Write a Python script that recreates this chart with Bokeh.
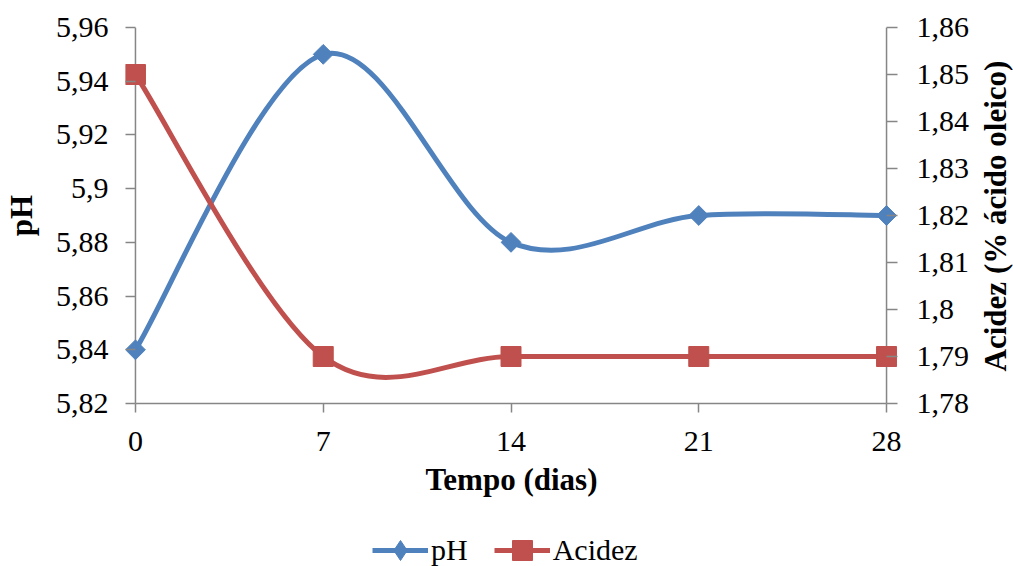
import numpy as np
from bokeh.plotting import figure
from bokeh.models import (Range1d, LinearAxis, FixedTicker, Legend, LegendItem, Span, Label)
from bokeh.layouts import column, row
from bokeh.embed import file_html
from bokeh.resources import INLINE

# ---- data ----
dias = [0, 7, 14, 21, 28]
ph = [5.84, 5.95, 5.88, 5.89, 5.89]
acidez = [1.85, 1.79, 1.79, 1.79, 1.79]

ph_ticks = [5.82, 5.84, 5.86, 5.88, 5.90, 5.92, 5.94, 5.96]
ph_labels = ["5,82", "5,84", "5,86", "5,88", "5,9", "5,92", "5,94", "5,96"]
ac_ticks = [1.78, 1.79, 1.80, 1.81, 1.82, 1.83, 1.84, 1.85, 1.86]
ac_labels = ["1,78", "1,79", "1,8", "1,81", "1,82", "1,83", "1,84", "1,85", "1,86"]
x_ticks = [0, 7, 14, 21, 28]

BLUE = "#4F81BD"
RED = "#C0504D"
AXC = "#868686"
FONT = "Liberation Serif"

# ---- layout geometry (pixels) ----
W = 1013
LEFT, RIGHT, TOP, BOTTOM = 122, 82, 27, 110
FRAME_W, FRAME_H = 775, 376
PAD_L, PAD_R = 10, 11          # room so edge markers are not clipped
MAIN_W = LEFT + FRAME_W + RIGHT
MAIN_H = TOP + FRAME_H + BOTTOM
STRIP_W = W - MAIN_W
LEG_H = 566 - MAIN_H

ppu = (FRAME_W - PAD_L - PAD_R) / (dias[-1] - dias[0])
x_start = dias[0] - PAD_L / ppu
x_end = dias[-1] + PAD_R / ppu


def smooth_segments(xs, ys, k=1/6):
    """Catmull-Rom style Bezier control points (Excel smoothed line)."""
    xs = np.asarray(xs, float); ys = np.asarray(ys, float)
    n = len(xs)
    d = dict(x0=[], y0=[], x1=[], y1=[], cx0=[], cy0=[], cx1=[], cy1=[])
    for i in range(n - 1):
        p0 = i - 1 if i > 0 else i
        p3 = i + 2 if i + 2 < n else i + 1
        d["x0"].append(xs[i]); d["y0"].append(ys[i])
        d["x1"].append(xs[i + 1]); d["y1"].append(ys[i + 1])
        d["cx0"].append(xs[i] + (xs[i + 1] - xs[p0]) * k)
        d["cy0"].append(ys[i] + (ys[i + 1] - ys[p0]) * k)
        d["cx1"].append(xs[i + 1] - (xs[p3] - xs[i]) * k)
        d["cy1"].append(ys[i + 1] - (ys[p3] - ys[i]) * k)
    return d


p = figure(width=MAIN_W, height=MAIN_H, output_backend="svg", toolbar_location=None,
           x_range=Range1d(x_start, x_end), y_range=Range1d(ph_ticks[0], ph_ticks[-1]),
           min_border_left=LEFT, min_border_right=RIGHT, min_border_top=TOP,
           min_border_bottom=BOTTOM)
p.extra_y_ranges = {"ac": Range1d(ac_ticks[0], ac_ticks[-1])}
p.outline_line_color = None
p.grid.visible = False

xa = p.xaxis[0]
xa.ticker = FixedTicker(ticks=x_ticks)
xa.bounds = (dias[0], dias[-1])
xa.axis_label = "Tempo (dias)"
ya = p.yaxis[0]
ya.ticker = FixedTicker(ticks=ph_ticks)
ya.major_label_overrides = {t: l for t, l in zip(ph_ticks, ph_labels)}
ya.axis_label = "pH"

ra = LinearAxis(y_range_name="ac", ticker=FixedTicker(ticks=ac_ticks))
ra.major_label_overrides = {t: l for t, l in zip(ac_ticks, ac_labels)}
p.add_layout(ra, "right")

for ax in (xa, ya, ra):
    ax.axis_line_color = AXC
    ax.axis_line_width = 1.5
    ax.major_tick_line_color = AXC
    ax.major_tick_line_width = 1.5
    ax.minor_tick_line_color = None
    ax.major_label_text_font = FONT
    ax.major_label_text_font_size = "30px"
    ax.major_label_text_color = "black"
    ax.axis_label_text_font = FONT
    ax.axis_label_text_font_size = "31px"
    ax.axis_label_text_font_style = "bold"
    ax.axis_label_text_color = "black"

# x axis: ticks outward
xa.major_tick_out = 9
xa.major_tick_in = 0
xa.major_label_standoff = 19
xa.axis_label_standoff = 8

# y axes sit at the frame edge; their ticks reach in to the day-0 / day-28 line
ya.axis_line_color = None
ra.axis_line_color = None
ya.major_tick_out = 0
ya.major_tick_in = PAD_L
ya.major_label_standoff = 17
ya.axis_label_standoff = 14
ra.major_tick_out = 0
ra.major_tick_in = PAD_R
ra.major_label_standoff = 19

# vertical axis lines at the first and last day
for loc in (dias[0], dias[-1]):
    p.add_layout(Span(location=loc, dimension="height", line_color=AXC,
                      line_width=1.5, level="underlay"))

# series
p.bezier(source=smooth_segments(dias, ph), x0="x0", y0="y0", x1="x1", y1="y1",
         cx0="cx0", cy0="cy0", cx1="cx1", cy1="cy1",
         line_color=BLUE, line_width=5)
p.scatter(dias, ph, marker="square", angle=np.pi / 4, size=14,
          fill_color=BLUE, line_color=BLUE)
p.bezier(source=smooth_segments(dias, acidez), x0="x0", y0="y0", x1="x1", y1="y1",
         cx0="cx0", cy0="cy0", cx1="cx1", cy1="cy1",
         line_color=RED, line_width=5, y_range_name="ac")
p.scatter(dias, acidez, marker="square", size=20,
          fill_color=RED, line_color=RED, y_range_name="ac")

# ---- right axis title strip (frame is aligned with the main frame) ----
t = figure(width=STRIP_W, height=MAIN_H, output_backend="svg", toolbar_location=None,
           x_axis_location=None, y_axis_location=None, min_border=0,
           x_range=Range1d(0, 1), y_range=Range1d(0, 1))
t.outline_line_color = None
t.grid.visible = False
t.add_layout(Label(x=995 - MAIN_W, y=(TOP + FRAME_H) - 215.5, x_units="screen", y_units="screen",
                   text="Acidez (% ácido oleico)", angle=np.pi / 2,
                   text_align="center", text_baseline="alphabetic",
                   text_font=FONT, text_font_size="31px", text_font_style="bold",
                   text_color="black"))

# ---- legend strip ----
lg = figure(width=W, height=LEG_H, output_backend="svg", toolbar_location=None,
            x_axis_location=None, y_axis_location=None, min_border=0,
            x_range=Range1d(0, 1), y_range=Range1d(0, 1))
lg.outline_line_color = None
lg.grid.visible = False
l1 = lg.line([np.nan], [np.nan], line_color=BLUE, line_width=5)
m1 = lg.scatter([np.nan], [np.nan], marker="diamond", size=20, fill_color=BLUE, line_color=BLUE)
l2 = lg.line([np.nan], [np.nan], line_color=RED, line_width=5)
m2 = lg.scatter([np.nan], [np.nan], marker="square", size=20, fill_color=RED, line_color=RED)
legend = Legend(items=[LegendItem(label="pH", renderers=[l1, m1]),
                       LegendItem(label="Acidez", renderers=[l2, m2])],
                orientation="horizontal", location=(372, LEG_H - (550 - MAIN_H) - 25),
                glyph_width=56, glyph_height=50, label_standoff=3, spacing=26,
                padding=0, margin=0, border_line_color=None,
                background_fill_alpha=0,
                label_text_font=FONT, label_text_font_size="30px",
                label_text_color="black")
lg.add_layout(legend, "center")

layout = column(row(p, t), lg)
open("out.html", "w").write(file_html(layout, INLINE))
